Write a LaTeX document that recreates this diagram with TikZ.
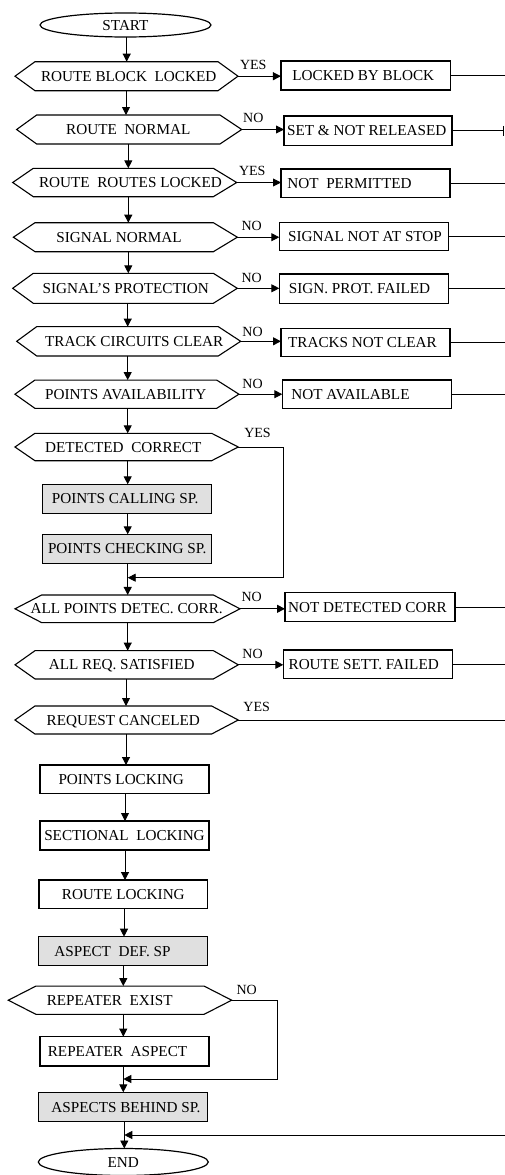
\documentclass[tikz,border=0pt]{standalone}
\usepackage{fontspec}
\setmainfont{Liberation Serif}
\usetikzlibrary{arrows.meta,shapes.geometric}
\definecolor{boxgray}{RGB}{224,224,224}
\newcommand\tsh[2]{\makebox[0pt]{\hspace*{#1}#2}}
\newcommand\hexo[3]{%
  \draw[hexline] (#1.north west) -- (#1.north east) -- ([xshift=#3]#1.east) -- (#1.south east) -- (#1.south west) -- ([xshift=-#2]#1.west) -- cycle;
  \coordinate (#1-r) at ([xshift=#3]#1.east);}
\tikzset{
  base/.style={font=\fontsize{15.2}{18}\selectfont, inner sep=0pt, outer sep=0pt, text height=10pt, text depth=0pt},
  rbox/.style 2 args={base, draw, line width=1.5pt, minimum width=#1, minimum height=#2},
  gbox/.style 2 args={rbox={#1}{#2}, fill=boxgray},
  hexn/.style 2 args={base, minimum width=#1, minimum height=#2},
  hexline/.style={line width=1.1pt, line join=miter},
  ell/.style 2 args={base, draw, ellipse, line width=1.2pt, minimum width=#1, minimum height=#2},
  conn/.style={line width=0.9pt},
  arr/.style={conn, -{Triangle[length=8pt,width=8pt]}},
  lab/.style={font=\fontsize{14}{16}\selectfont, inner sep=0pt, text height=9.3pt, text depth=0pt}
}
\begin{document}
\begin{tikzpicture}[x=1pt,y=-1pt]
\useasboundingbox (0,0) rectangle (505,1175);
% main column
\node[ell={171pt}{24pt}] (st) at (125.5,25) {START};
\node[hexn={183pt}{29pt}] (h1) at (126.5,76.2) {\tsh{4.4pt}{ROUTE BLOCK\ \ LOCKED}};
\hexo{h1}{20pt}{20pt}
\node[hexn={183.3pt}{29pt}] (h2) at (128.3,129.5) {ROUTE\ \ NORMAL};
\hexo{h2}{20pt}{21.7pt}
\node[hexn={180pt}{28.4pt}] (h3) at (123.3,182.5) {\tsh{14.4pt}{ROUTE\ \ ROUTES LOCKED}};
\hexo{h3}{20.6pt}{23.4pt}
\node[hexn={178.3pt}{29pt}] (h4) at (124.2,237.2) {\tsh{-10.4pt}{SIGNAL NORMAL}};
\hexo{h4}{21.7pt}{24pt}
\node[hexn={180pt}{30pt}] (h5) at (123.3,288.3) {\tsh{5pt}{SIGNAL'S PROTECTION}};
\hexo{h5}{20.6pt}{24pt}
\node[hexn={181.6pt}{29.3pt}] (h6) at (127.5,341.3) {\tsh{13.4pt}{TRACK CIRCUITS CLEAR}};
\hexo{h6}{20pt}{22.4pt}
\node[hexn={181.7pt}{28.3pt}] (h7) at (125.8,394.2) {POINTS AVAILABILITY};
\hexo{h7}{20pt}{22.3pt}
\node[hexn={176.7pt}{27.4pt}] (h8) at (123.3,447) {DETECTED\ \ CORRECT};
\hexo{h8}{20pt}{26.6pt}
\node[gbox={169pt}{29pt}] (c1) at (127.2,498.8) {\tsh{-4pt}{POINTS CALLING SP.}};
\node[gbox={169pt}{29pt}] (c2) at (127.2,548.8) {POINTS CHECKING SP.};
\node[hexn={171.6pt}{27.7pt}] (h9) at (127.5,608.8) {\tsh{-1.6pt}{ALL POINTS DETEC. CORR.}};
\hexo{h9}{26.7pt}{26.7pt}
\node[hexn={178.3pt}{28.3pt}] (h10) at (124.2,664.8) {\tsh{-5pt}{ALL REQ. SATISFIED}};
\hexo{h10}{20pt}{25pt}
\node[hexn={176.7pt}{28pt}] (h11) at (123.3,720) {REQUEST CANCELED};
\hexo{h11}{20pt}{26.6pt}
\node[rbox={169pt}{28.3pt}] (p1) at (124.5,779.2) {\tsh{-6.6pt}{POINTS LOCKING}};
\node[rbox={169pt}{29pt}] (p2) at (124.5,835.5) {SECTIONAL\ \ LOCKING};
\node[rbox={168.7pt}{28.3pt}] (p3) at (123.3,894.2) {ROUTE LOCKING};
\node[gbox={169.4pt}{29pt}] (p4) at (123,951.2) {\tsh{-21pt}{ASPECT\ \ DEF. SP}};
\node[hexn={168pt}{28.3pt}] (h12) at (120,1000.2) {\tsh{-20.6pt}{REPEATER\ \ EXIST}};
\hexo{h12}{27.7pt}{27.7pt}
\node[rbox={169pt}{29.3pt}] (p5) at (124.5,1051.3) {\tsh{-14pt}{REPEATER\ \ ASPECT}};
\node[gbox={169.4pt}{29.4pt}] (p6) at (123,1107) {\tsh{6pt}{ASPECTS BEHIND SP.}};
\node[ell={170pt}{27pt}] (en) at (123.3,1162) {END};
% right column boxes
\node[rbox={169.7pt}{29pt}] (b1) at (365.8,75.5) {\tsh{-5pt}{LOCKED BY BLOCK}};
\node[rbox={168pt}{29.3pt}] (b2) at (368,130.8) {\tsh{-2.6pt}{SET \& NOT RELEASED}};
\node[rbox={169pt}{28.3pt}] (b3) at (365.5,183.2) {\tsh{-32pt}{NOT\ \ PERMITTED}};
\node[rbox={169pt}{28.4pt}] (b4) at (363.8,236.5) {\tsh{2.4pt}{SIGNAL NOT AT STOP}};
\node[rbox={169pt}{29.3pt}] (b5) at (363.8,288.7) {\tsh{-8.6pt}{SIGN. PROT. FAILED}};
\node[rbox={169pt}{28.4pt}] (b6) at (365.5,342.5) {\tsh{-6pt}{TRACKS NOT CLEAR}};
\node[rbox={169.4pt}{28.3pt}] (b7) at (367,394.2) {\tsh{-33pt}{NOT AVAILABLE}};
\node[rbox={170pt}{29pt}] (b9) at (370,607.2) {\tsh{-5pt}{NOT DETECTED CORR}};
\node[rbox={169pt}{28.3pt}] (b10) at (367.8,664.2) {\tsh{-8.2pt}{ROUTE SETT. FAILED}};
% labels
\node[lab] (l1) at (253.3,65) {YES};
\node[lab] (l2) at (253.3,118.3) {NO};
\node[lab] (l3) at (252.3,170.7) {YES};
\node[lab] (l4) at (251.7,226) {NO};
\node[lab] (l5) at (251.7,278.3) {NO};
\node[lab] (l6) at (252.5,331.7) {NO};
\node[lab] (l7) at (252.5,384) {NO};
\node[lab] (l8) at (257.5,433.3) {YES};
\node[lab] (l9) at (251.7,597.3) {NO};
\node[lab] (l10) at (252.5,654) {NO};
\node[lab] (l11) at (256.7,707.3) {YES};
\node[lab] (l12) at (246.7,990) {NO};
% helper coordinates
\coordinate (mA) at (126.7,0);
\coordinate (mB) at (126,0);
\coordinate (mC) at (128.3,0);
\coordinate (mD) at (127.7,0);
\coordinate (mE) at (125,0);
\coordinate (mF) at (124,0);
\coordinate (mG) at (123.3,0);
\coordinate (mH) at (124.3,0);
\coordinate (R) at (505,0);
\coordinate (Rb) at (504.3,0);
\coordinate (k1) at (283.3,577.7);
\coordinate (k2) at (277.7,1079);
\coordinate (k3) at (505,1135);
% main flow
\draw[arr] (st.south -| mA) -- (h1.north -| mA);
\draw[arr] (h1.south -| mB) -- (h2.north -| mB);
\draw[arr] (h2.south -| mC) -- (h3.north -| mC);
\draw[arr] (h3.south -| mC) -- (h4.north -| mC);
\draw[arr] (h4.south -| mC) -- (h5.north -| mC);
\draw[arr] (h5.south -| mD) -- (h6.north -| mD);
\draw[arr] (h6.south -| mD) -- (h7.north -| mD);
\draw[arr] (h7.south -| mD) -- (h8.north -| mD);
\draw[arr] (h8.south -| mD) -- (c1.north -| mD);
\draw[arr] (c1.south -| mD) -- (c2.north -| mD);
\draw[arr] (c2.south -| mD) -- (h9.north -| mD);
\draw[arr] (h9.south -| mD) -- (h10.north -| mD);
\draw[arr] (h10.south -| mB) -- (h11.north -| mB);
\draw[arr] (h11.south -| mB) -- (p1.north -| mB);
\draw[arr] (p1.south -| mE) -- (p2.north -| mE);
\draw[arr] (p2.south -| mE) -- (p3.north -| mE);
\draw[arr] (p3.south -| mF) -- (p4.north -| mF);
\draw[arr] (p4.south -| mG) -- (h12.north -| mG);
\draw[arr] (h12.south -| mG) -- (p5.north -| mG);
\draw[arr] (p5.south -| mG) -- (p6.north -| mG);
\draw[arr] (p6.south -| mH) -- (en.north -| mH);
% branches
\draw[arr] (h1-r) -- (h1-r -| b1.west);
\draw[arr] (h2-r) -- (h2-r -| b2.west);
\draw[arr] (h3-r) -- (h3-r -| b3.west);
\draw[arr] (h4-r) -- (h4-r -| b4.west);
\draw[arr] (h5-r) -- (h5-r -| b5.west);
\draw[arr] (h6-r) -- (h6-r -| b6.west);
\draw[arr] (h7-r) -- (h7-r -| b7.west);
\draw[arr] (h9-r) -- (h9-r -| b9.west);
\draw[arr] (h10-r) -- (h10-r -| b10.west);
\draw[conn] (b1.east) -- (b1.east -| R);
\draw[conn,-{Bar[width=10pt]}] (b2.east) -- (b2.east -| Rb);
\draw[conn] (b3.east) -- (b3.east -| R);
\draw[conn] (b4.east) -- (b4.east -| R);
\draw[conn] (b5.east) -- (b5.east -| R);
\draw[conn] (b6.east) -- (b6.east -| R);
\draw[conn] (b7.east) -- (b7.east -| R);
\draw[conn] (b9.east) -- (b9.east -| R);
\draw[conn] (b10.east) -- (b10.east -| R);
\draw[conn] (h11-r) -- (h11-r -| R);
% bypass loops
\draw[arr] (h8-r) -| (k1) -- (k1 -| mD);
\draw[arr] (h12-r) -| (k2) -- (k2 -| mG);
\draw[arr] (k3) -- (k3 -| mH);
\end{tikzpicture}
\end{document}
